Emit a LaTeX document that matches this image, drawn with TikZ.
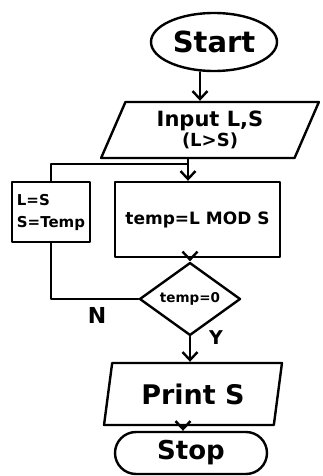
\documentclass[tikz,border=0pt]{standalone}
\usepackage{fontspec}
\setmainfont{DejaVu Sans}
\usetikzlibrary{shapes.geometric,shapes.misc,arrows.meta}
\tikzset{
  ln/.style={line width=2.4pt, line join=round, line cap=round},
  arr/.style={ln, -{Straight Barb[length=8pt,width=15pt,line width=2.4pt]}},
  box/.style={ln, draw, inner sep=0pt},
  io/.style={box, trapezium, trapezium stretches=true},
  lbl/.style={inner sep=0pt}
}
\begin{document}
\begin{tikzpicture}[x=1pt,y=-1pt]
\useasboundingbox (0,0) rectangle (322,476);
% nodes
\node[box, ellipse, minimum width=126pt, minimum height=58pt, font=\fontsize{29}{31}\selectfont\bfseries] (start) at (214,42) {Start};
\node[io, trapezium left angle=68, trapezium right angle=112, minimum width=218pt, minimum height=56pt, align=center, font=\fontsize{21}{24}\selectfont\bfseries] (input) at (210,130)
  {Input L,S\\[-4pt]{\fontsize{18}{20}\selectfont (L>S)}};
\node[box, rectangle, minimum width=78pt, minimum height=60pt, align=left, font=\fontsize{15}{22}\selectfont\bfseries] (lss) at (51,212) {L=S\\S=Temp};
\node[box, rectangle, minimum width=165pt, minimum height=75pt, font=\fontsize{17}{20}\selectfont\bfseries] (temp) at (197.5,219.5) {temp=L MOD S};
\node[box, diamond, minimum width=101pt, minimum height=53pt, font=\fontsize{13.5}{15}\selectfont\bfseries] (dec) at (190,299) {temp=0};
\node[io, trapezium left angle=76, trapezium right angle=104, minimum width=178pt, minimum height=62pt, font=\fontsize{27}{29}\selectfont\bfseries] (print) at (193,394) {Print S};
\node[box, rounded rectangle, minimum width=152pt, minimum height=42pt, font=\fontsize{26}{28}\selectfont\bfseries] (stop) at (191,453) {Stop};
% labels
\node[lbl, font=\fontsize{22}{24}\selectfont\bfseries] (nl) at (97,315) {N};
\node[lbl, font=\fontsize{19}{21}\selectfont\bfseries] (yl) at (216,338) {Y};
% helper coordinates
\coordinate (c1) at (200,0);
\coordinate (c2) at (188,0);
\coordinate (j) at (188,164);
\coordinate (c3) at (183,0);
% connectors
\draw[arr] (start.south -| c1) -- (input.north -| c1);
\draw[arr] (input.south -| c2) -- (temp.north -| c2);
\draw[ln] (lss.north) |- (j);
\draw[arr] (temp.south -| dec.north) -- (dec.north);
\draw[ln] (dec.west) -| (lss.south);
\draw[arr] (dec.south) -- (print.north -| dec.south);
\draw[arr] (print.south -| c3) -- (stop.north -| c3);
\end{tikzpicture}
\end{document}
